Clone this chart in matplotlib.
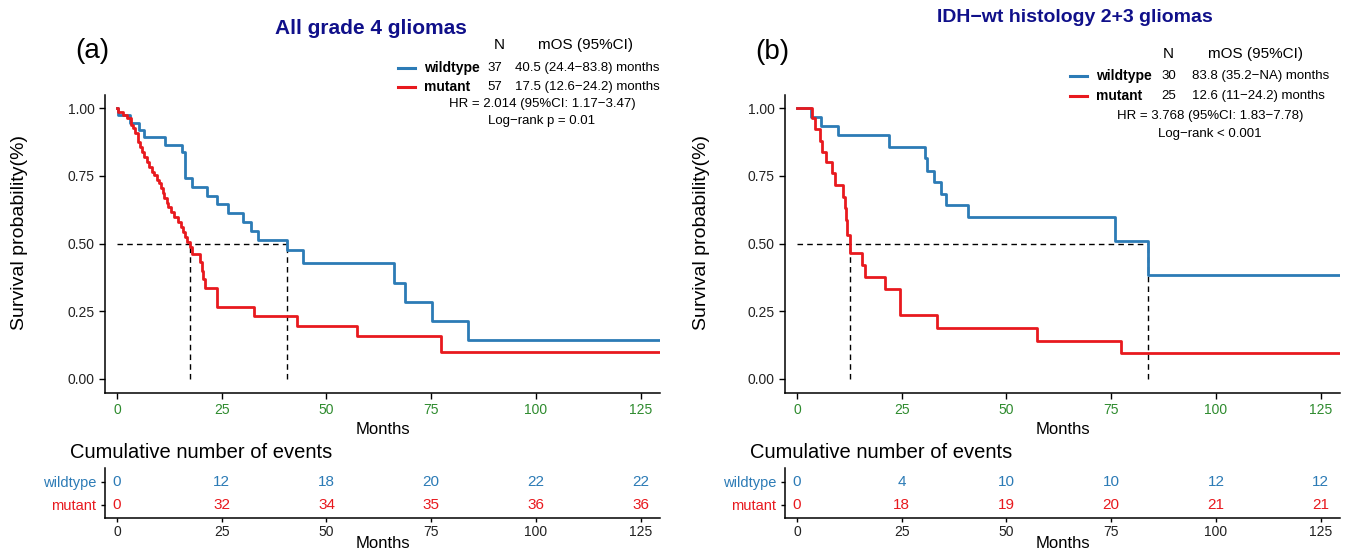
import matplotlib
matplotlib.use("Agg")
import matplotlib.pyplot as plt
from matplotlib import font_manager

plt.rcParams['font.family'] = ['Liberation Sans', 'DejaVu Sans']
_names = {f.name for f in font_manager.fontManager.ttflist}
NARROW = ['Liberation Sans Narrow', 'Liberation Sans'] if 'Liberation Sans Narrow' in _names else ['Liberation Sans']

# ---------------- data ----------------
# Panel (a): All grade 4 gliomas
wt_a_time = [0, 0.3, 3.1, 5.3, 6.4, 11.5, 15.4, 16.2, 18.0, 21.4, 23.9, 26.5, 30.0, 32.0, 33.6,
             40.5, 44.4, 66.1, 68.7, 75.2, 83.8, 129.5]
wt_a_surv = [1.0, 0.973, 0.946, 0.919, 0.892, 0.865, 0.838, 0.740, 0.707, 0.675, 0.645, 0.612, 0.578,
             0.545, 0.512, 0.476, 0.428, 0.355, 0.285, 0.213, 0.143, 0.143]
mut_a_time = [0, 0.3, 1.5, 2.5, 3.3, 3.9, 4.3, 4.9, 5.1, 5.5, 5.9, 6.5, 7.1, 7.6, 8.3, 8.9, 9.5, 10.0,
              10.5, 10.9, 11.3, 11.9, 12.2, 13.0, 13.7, 14.6, 15.3, 15.8, 16.2, 16.8, 17.5, 18.0, 19.8,
              20.4, 20.6, 21.0, 23.8, 32.7, 43.0, 57.2, 77.3, 129.5]
mut_a_surv = [1.0, 0.986, 0.974, 0.962, 0.937, 0.925, 0.907, 0.894, 0.876, 0.857, 0.839, 0.820, 0.802,
              0.783, 0.765, 0.753, 0.734, 0.722, 0.704, 0.685, 0.667, 0.648, 0.636, 0.617, 0.599, 0.580,
              0.562, 0.544, 0.525, 0.507, 0.488, 0.461, 0.433, 0.400, 0.368, 0.335, 0.267, 0.233, 0.196,
              0.159, 0.101, 0.101]
median_a = [40.5, 17.5]

# Panel (b): IDH-wt histology 2+3 gliomas
wt_b_time = [0, 3.4, 5.8, 9.7, 22.0, 30.5, 31.1, 32.7, 34.3, 35.5, 40.9, 75.9, 83.8, 129.5]
wt_b_surv = [1.0, 0.967, 0.933, 0.900, 0.856, 0.815, 0.769, 0.727, 0.683, 0.643, 0.596, 0.510,
             0.383, 0.383]
mut_b_time = [0, 3.7, 4.3, 5.5, 6.0, 7.0, 8.4, 9.1, 11.1, 11.4, 11.6, 12.0, 12.6, 15.5, 16.3, 21.1,
              24.5, 33.4, 57.3, 77.4, 129.5]
mut_b_surv = [1.0, 0.962, 0.921, 0.879, 0.839, 0.80, 0.759, 0.716, 0.673, 0.63, 0.587, 0.531, 0.464,
              0.42, 0.377, 0.331, 0.236, 0.189, 0.141, 0.095, 0.095]
median_b = [83.8, 12.6]

# Cumulative events tables
tab_times = [0, 25, 50, 75, 100, 125]
events_a_wt = [0, 12, 18, 20, 22, 22]
events_a_mut = [0, 32, 34, 35, 36, 36]
events_b_wt = [0, 4, 10, 10, 12, 12]
events_b_mut = [0, 18, 19, 20, 21, 21]

groups = ["wildtype", "mutant"]
x_ticks = [0, 25, 50, 75, 100, 125]
y_ticks = [0.0, 0.25, 0.5, 0.75, 1.0]
y_ticklabels = ["0.00", "0.25", "0.50", "0.75", "1.00"]

BLUE = "#2C7BB6"
RED = "#E8191E"
NAVY = "#10108A"
GREEN = "#2E8B2E"

panels = [
    dict(letter="(a)", title="All grade 4 gliomas",
         wt=(wt_a_time, wt_a_surv), mut=(mut_a_time, mut_a_surv), med=median_a,
         n=["37", "57"], mos=["40.5 (24.4\u221283.8) months", "17.5 (12.6\u221224.2) months"],
         hr="HR = 2.014 (95%CI: 1.17\u22123.47)", lr="Log\u2212rank p = 0.01",
         ev_wt=events_a_wt, ev_mut=events_a_mut, left=105, ylab_x=28),
    dict(letter="(b)", title="IDH\u2212wt histology 2+3 gliomas",
         wt=(wt_b_time, wt_b_surv), mut=(mut_b_time, mut_b_surv), med=median_b,
         n=["30", "25"], mos=["83.8 (35.2\u2212NA) months", "12.6 (11\u221224.2) months"],
         hr="HR = 3.768 (95%CI: 1.83\u22127.78)", lr="Log\u2212rank < 0.001",
         ev_wt=events_b_wt, ev_mut=events_b_mut, left=785, ylab_x=710),
]

W, H = 1354, 553
fig = plt.figure(figsize=(W / 100, H / 100), dpi=100)

def fx(px):
    return px / W

def fy(py):
    return 1 - py / H

XL = (-2.86, 129.6)

for i, p in enumerate(panels):
    L = p["left"]
    # main KM axes
    ax = fig.add_axes([fx(L), fy(392.5), fx(555), 298 / H])
    ax.step(p["wt"][0], p["wt"][1], where="post", color=BLUE, lw=2.0, zorder=3)
    ax.step(p["mut"][0], p["mut"][1], where="post", color=RED, lw=2.0, zorder=3)
    mmax = max(p["med"])
    ax.plot([0, mmax], [0.5, 0.5], ls=(0, (4, 3)), color="black", lw=1.0, zorder=2)
    for m in p["med"]:
        ax.plot([m, m], [0, 0.5], ls=(0, (4, 3)), color="black", lw=1.0, zorder=2)
    ax.set_xlim(*XL)
    ax.set_ylim(-0.05, 1.05)
    ax.set_xticks(x_ticks)
    ax.set_xticklabels([str(t) for t in x_ticks], color=GREEN, fontsize=10)
    ax.set_yticks(y_ticks)
    ax.set_yticklabels(y_ticklabels, fontsize=10, color="#222222")
    for s in ["top", "right"]:
        ax.spines[s].set_visible(False)
    for s in ["left", "bottom"]:
        ax.spines[s].set_linewidth(1.1)
    ax.tick_params(direction="out", length=4, width=1.0)
    ax.set_xlabel("Months", fontsize=12)
    ax.xaxis.set_label_coords(0.5, (392.5 - 422) / 298)
    ax.set_ylabel("Survival probability(%)", fontsize=14)
    ax.yaxis.set_label_coords((p["ylab_x"] - L) / 555, (392.5 - 233) / 298)

    # titles and labels
    if i == 0:
        fig.text(fx(371), fy(28), p["title"], color=NAVY, fontsize=15, fontweight="bold",
                 ha="center", va="center")
        fig.text(fx(92), fy(51), p["letter"], fontsize=20, ha="center", va="center")
        lx, nx, mx, hx, Nc, Mc = 398, 487, 515, 542, 499, 586
        yN, y1, y2, yh, yl = 45, 68, 87, 104, 121
    else:
        fig.text(fx(1075), fy(18), p["title"], color=NAVY, fontsize=14, fontweight="bold",
                 ha="center", va="center")
        fig.text(fx(772), fy(52), p["letter"], fontsize=20, ha="center", va="center")
        lx, nx, mx, hx, Nc, Mc = 1070, 1161, 1192, 1210, 1168, 1256
        yN, y1, y2, yh, yl = 54, 76, 96, 116, 134

    # legend-like annotation
    fig.text(fx(Nc), fy(yN), "N", fontsize=11, ha="center", va="center", family=NARROW)
    fig.text(fx(Mc), fy(yN), "mOS (95%CI)", fontsize=11, ha="center", va="center", family=NARROW)
    for yy, col, g, n, mos in [(y1, BLUE, groups[0], p["n"][0], p["mos"][0]),
                               (y2, RED, groups[1], p["n"][1], p["mos"][1])]:
        fig.add_artist(plt.Line2D([fx(lx), fx(lx + 17)], [fy(yy), fy(yy)], color=col, lw=2.2))
        fig.text(fx(lx + 26), fy(yy), g, fontsize=10, fontweight="bold", ha="left", va="center")
        fig.text(fx(nx), fy(yy), n, fontsize=9.5, ha="left", va="center")
        fig.text(fx(mx), fy(yy), mos, fontsize=9.5, ha="left", va="center")
    fig.text(fx(hx), fy(yh), p["hr"], fontsize=9.5, ha="center", va="center")
    fig.text(fx(hx), fy(yl), p["lr"], fontsize=9.5, ha="center", va="center")

    # cumulative events table
    tx = fig.add_axes([fx(L), fy(518), fx(555), 50 / H])
    tx.set_xlim(*XL)
    tx.set_ylim(0, 1)
    rows_y = [0.73, 0.26]
    for yv, col, ev in [(rows_y[0], BLUE, p["ev_wt"]), (rows_y[1], RED, p["ev_mut"])]:
        for t, e in zip(tab_times, ev):
            tx.text(t, yv, str(e), color=col, fontsize=11, ha="center", va="center")
    tx.set_yticks(rows_y)
    tx.set_yticklabels(groups, fontsize=10.5)
    tx.get_yticklabels()[0].set_color(BLUE)
    tx.get_yticklabels()[1].set_color(RED)
    tx.set_xticks(x_ticks)
    tx.set_xticklabels([str(t) for t in x_ticks], fontsize=10, color="#222222")
    tx.tick_params(axis="x", pad=2)
    for s in ["top", "right"]:
        tx.spines[s].set_visible(False)
    for s in ["left", "bottom"]:
        tx.spines[s].set_linewidth(1.1)
    tx.tick_params(direction="out", length=3, width=1.0)
    tx.set_xlabel("Months", fontsize=12)
    tx.xaxis.set_label_coords(0.5, -(544 - 518) / 50)
    tx.xaxis.label.set_va("center")
    fig.text(fx(L - 35), fy(452), "Cumulative number of events", fontsize=14.5,
             ha="left", va="center")

fig.savefig("out.png", dpi=100)
